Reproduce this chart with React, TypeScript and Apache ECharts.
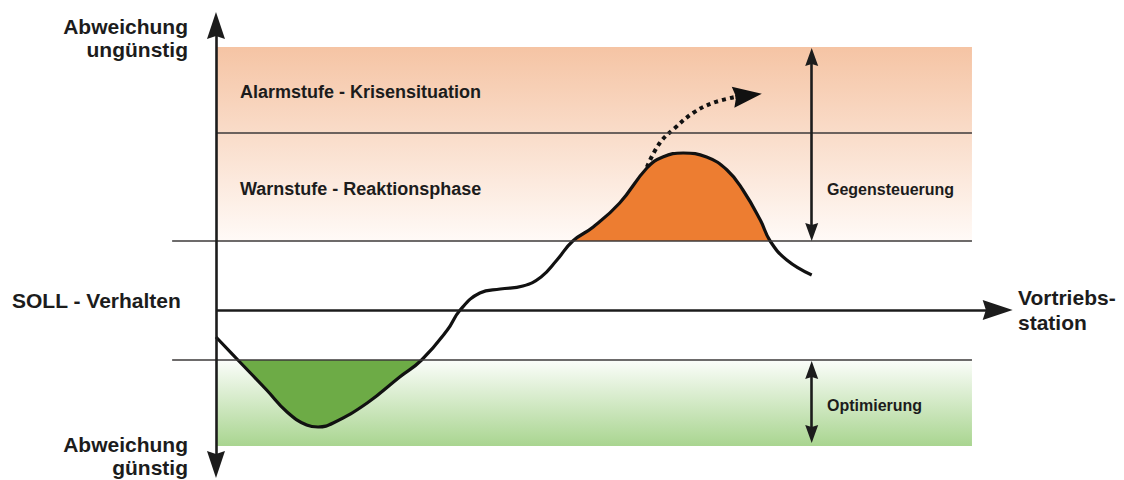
import React, { useEffect, useRef } from "react";
import * as echarts from "echarts";

// Levels of deviation (units: abstract deviation, 0 = SOLL)
const SOLL = 0;
const OPT_LEVEL = -5.0;
const WARN_LEVEL = 6.9;
const ALARM_LEVEL = 17.7;
const BAND_TOP = 26.3;
const BAND_BOTTOM = -13.6;
const BAND_START = 0;
const BAND_END = 100;
const THRESH_START = -5.8;

// Course of the deviation along the Vortriebsstation
const curve: [number, number][] = [
  [0, -2.7], [2.9, -5.0], [6.7, -8.0], [9.4, -10.2], [12.0, -11.5], [13.5, -11.7],
  [15.5, -11.3], [20.0, -9.3], [24.3, -6.7], [27.2, -5.0], [30.6, -2.0], [32.3, 0],
  [34.9, 1.7], [37.6, 2.1], [40.6, 2.4], [43.0, 3.3], [45.1, 5.0], [47.2, 6.9],
  [49.9, 8.3], [53.4, 10.7], [57.0, 14.2], [59.1, 15.3], [61.8, 15.7], [64.9, 15.3],
  [67.6, 14.0], [69.7, 12.0], [72.0, 9.0], [73.3, 6.9], [75.5, 5.0], [78.8, 3.5],
];
const greenFrom = 2.9, greenTo = 27.2;
const orangeFrom = 47.2, orangeTo = 73.3;

// Escalation path (dotted)
const escalation: [number, number][] = [
  [57.0, 14.3], [58.7, 16.7], [60.7, 18.2], [63.1, 19.7], [65.7, 20.7], [68.7, 21.3],
];
const escalationHead: [number, number] = [70.3, 21.45];

// Axes extents (arrow ends)
const yAxisTop = 28.45, yAxisBottom = -15.45;
const xAxisEnd = 103.4;
const ctrlX = 78.8;
const gegenTop = 25.3, gegenBottom = 7.8;
const optTop = -6.0, optBottom = -12.4;

const FONT = '"Liberation Sans", Arial, Helvetica, sans-serif';
const ARROW = "path://M10,0 L20,28 L10,25 L0,28 Z";
const SMOOTH = 0.45;

export default function App() {
  const ref = useRef<HTMLDivElement>(null);
  useEffect(() => {
    if (!ref.current) return;
    const chart = echarts.init(ref.current, undefined, { renderer: "svg" });
    const greenSeg = curve.filter((p) => p[0] >= greenFrom && p[0] <= greenTo);
    const orangeSeg = curve.filter((p) => p[0] >= orangeFrom && p[0] <= orangeTo);
    const txt = (text: string, x: number, y: number, size: number, align = "left") => ({
      type: "text",
      x,
      y,
      z: 100,
      style: {
        text,
        fill: "#1c1c1c",
        font: `bold ${size}px ${FONT}`,
        align,
        verticalAlign: "middle",
      },
    });
    chart.setOption({
      animation: false,
      grid: { left: 0, right: 0, top: 0, bottom: 0 },
      xAxis: { type: "value", min: -28.57, max: 120.11, show: false },
      yAxis: { type: "value", min: -17, max: 31, show: false },
      series: [
        {
          type: "line",
          data: [],
          z: 1,
          silent: true,
          markArea: {
            silent: true,
            data: [
              [
                {
                  coord: [BAND_START, BAND_TOP],
                  itemStyle: {
                    color: new echarts.graphic.LinearGradient(0, 0, 0, 1, [
                      { offset: 0, color: "#f5c4a4" },
                      { offset: 1, color: "#fffaf7" },
                    ]),
                  },
                },
                { coord: [BAND_END, WARN_LEVEL] },
              ],
              [
                {
                  coord: [BAND_START, OPT_LEVEL],
                  itemStyle: {
                    color: new echarts.graphic.LinearGradient(0, 0, 0, 1, [
                      { offset: 0, color: "#fbfdfa" },
                      { offset: 1, color: "#a9d590" },
                    ]),
                  },
                },
                { coord: [BAND_END, BAND_BOTTOM] },
              ],
            ],
          },
        },
        {
          type: "line",
          data: greenSeg,
          z: 2,
          smooth: SMOOTH,
          showSymbol: false,
          lineStyle: { width: 0 },
          areaStyle: { color: "#6dab46", opacity: 1, origin: OPT_LEVEL },
          silent: true,
        },
        {
          type: "line",
          data: orangeSeg,
          z: 2,
          smooth: SMOOTH,
          showSymbol: false,
          lineStyle: { width: 0 },
          areaStyle: { color: "#ed7d31", opacity: 1, origin: WARN_LEVEL },
          silent: true,
        },
        {
          type: "line",
          data: [],
          z: 3,
          silent: true,
          markLine: {
            silent: true,
            symbol: ["none", "none"],
            label: { show: false },
            lineStyle: { color: "#3c3a3a", width: 1.6, type: "solid" },
            data: [
              [{ coord: [BAND_START, ALARM_LEVEL] }, { coord: [BAND_END, ALARM_LEVEL] }],
              [{ coord: [THRESH_START, WARN_LEVEL] }, { coord: [BAND_END, WARN_LEVEL] }],
              [{ coord: [THRESH_START, OPT_LEVEL] }, { coord: [BAND_END, OPT_LEVEL] }],
            ],
          },
        },
        {
          type: "line",
          data: curve,
          z: 4,
          smooth: SMOOTH,
          showSymbol: false,
          lineStyle: { color: "#111", width: 3.2 },
          silent: true,
        },
        {
          type: "line",
          data: escalation,
          z: 4,
          smooth: 0.4,
          showSymbol: false,
          lineStyle: { color: "#111", width: 4, type: [4, 4] },
          silent: true,
          markLine: {
            silent: true,
            symbol: ["none", ARROW],
            symbolSize: [21, 29],
            label: { show: false },
            lineStyle: { color: "#111", width: 4, type: [4, 4] },
            data: [[{ coord: escalation[escalation.length - 1] }, { coord: escalationHead }]],
          },
        },
        {
          type: "line",
          data: [],
          z: 5,
          silent: true,
          markLine: {
            silent: true,
            label: { show: false },
            lineStyle: { color: "#1c1c1c", width: 2.6, type: "solid" },
            data: [
              [
                { coord: [0, yAxisBottom], symbol: ARROW, symbolSize: [18, 27] },
                { coord: [0, yAxisTop], symbol: ARROW, symbolSize: [18, 27] },
              ],
              [
                { coord: [0, SOLL], symbol: "none" },
                { coord: [xAxisEnd, SOLL], symbol: ARROW, symbolSize: [20, 30] },
              ],
              [
                { coord: [ctrlX, gegenBottom], symbol: ARROW, symbolSize: [13, 18] },
                { coord: [ctrlX, gegenTop], symbol: ARROW, symbolSize: [13, 18] },
              ],
              [
                { coord: [ctrlX, optBottom], symbol: ARROW, symbolSize: [13, 18] },
                { coord: [ctrlX, optTop], symbol: ARROW, symbolSize: [13, 18] },
              ],
            ],
          },
        },
      ],
      graphic: [
        txt("Abweichung", 188, 26, 21, "right"),
        txt("ungünstig", 188, 49, 21, "right"),
        txt("Alarmstufe - Krisensituation", 240, 92, 18),
        txt("Warnstufe - Reaktionsphase", 240, 189, 18),
        txt("SOLL - Verhalten", 12, 300, 21),
        txt("Vortriebs-", 1018, 297, 21),
        txt("station", 1018, 322, 21),
        txt("Abweichung", 188, 444, 21, "right"),
        txt("günstig", 188, 467, 21, "right"),
        txt("Gegensteuerung", 827, 189, 16),
        txt("Optimierung", 827, 405, 16),
      ],
    });
    return () => chart.dispose();
  }, []);
  return (
    <div
      ref={ref}
      style={{ position: "fixed", left: 0, top: 0, width: 1124, height: 480, background: "#fff" }}
    />
  );
}
